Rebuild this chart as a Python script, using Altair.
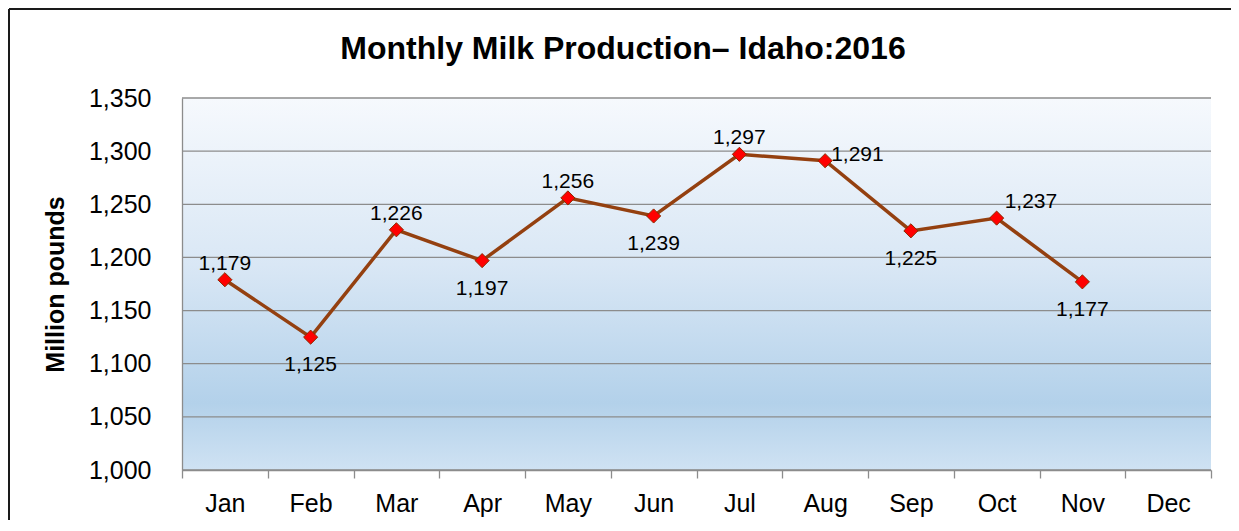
import altair as alt
import pandas as pd

months = ["Jan", "Feb", "Mar", "Apr", "May", "Jun", "Jul", "Aug", "Sep", "Oct", "Nov", "Dec"]
values = [1179, 1125, 1226, 1197, 1256, 1239, 1297, 1291, 1225, 1237, 1177]
label_pos = ["above", "below", "above", "below", "above", "below", "above", "right", "below", "aboveright", "below"]
y_ticks = [1000, 1050, 1100, 1150, 1200, 1250, 1300, 1350]
title_text = "Monthly Milk Production\u2013 Idaho:2016"
y_title = "Million pounds"

df = pd.DataFrame({"month": months[:len(values)], "value": values, "pos": label_pos})
grid_df = pd.DataFrame({"value": y_ticks})

W, H = 1029, 372
PAD = {"left": 174, "top": 90, "right": 20, "bottom": 50}
FONT = "Liberation Sans"

x_enc = alt.X(
    "month:N",
    sort=months,
    scale=alt.Scale(type="band", domain=months, paddingInner=0, paddingOuter=0),
    axis=alt.Axis(
        title=None, labelAngle=0, tickBand="extent", grid=False, zindex=1,
        domainColor="#8c8c8c", tickColor="#8c8c8c", tickSize=8, tickWidth=1.3,
        domainWidth=1.3, labelFontSize=25, labelFont=FONT, labelColor="black",
        labelPadding=13,
    ),
)
y_scale = alt.Scale(domain=[1000, 1350], nice=False, zero=False)
y_axis = alt.Axis(
    values=y_ticks, format=",.0f", title=y_title, titleFont=FONT, titleFontSize=25,
    titleFontWeight="bold", titleColor="black", titleAngle=270,
    titleX=-127, titleY=186, titleAlign="center", titleBaseline="middle",
    labelFontSize=25, labelFont=FONT, labelColor="black", labelPadding=31,
    tickSize=0, domainColor="#8c8c8c", domainWidth=1.3, grid=False, zindex=1,
)
y_enc = alt.Y("value:Q", scale=y_scale, axis=y_axis)

one = alt.Data(values=[{"t": title_text}])

bg_grad = alt.Gradient(
    gradient="linear", x1=0, x2=0, y1=0, y2=1,
    stops=[
        alt.GradientStop(offset=0, color="#f6f9fd"),
        alt.GradientStop(offset=0.45, color="#d9e7f5"),
        alt.GradientStop(offset=0.82, color="#b3d1ea"),
        alt.GradientStop(offset=1, color="#cfe2f3"),
    ],
)
bg = alt.Chart(one).mark_rect(fill=bg_grad).encode(
    x=alt.value(0), x2=alt.value(W), y=alt.value(0), y2=alt.value(H))

grid = alt.Chart(grid_df).mark_rule(color="#8c8c8c", strokeWidth=1.3).encode(
    y=y_enc, x=alt.value(0), x2=alt.value(W))

base = alt.Chart(df).encode(x=x_enc, y=y_enc)

line = base.mark_line(color="#944010", strokeWidth=3.5)
pts = base.mark_point(shape="diamond", filled=True, fill="#ff0000", stroke="#8a2c00",
                      strokeWidth=1, size=200, opacity=1)

offsets = {
    "above": dict(dx=0, dy=-10, align="center"),
    "below": dict(dx=0, dy=34, align="center"),
    "right": dict(dx=6, dy=0, align="left"),
    "aboveright": dict(dx=8, dy=-10, align="left"),
}
texts = []
for p, o in offsets.items():
    texts.append(
        base.transform_filter(alt.datum.pos == p)
        .mark_text(font=FONT, fontSize=21, color="black", baseline="alphabetic", **o)
        .encode(text=alt.Text("value:Q", format=",.0f"))
    )

title = alt.Chart(one).mark_text(font=FONT, fontSize=32, fontWeight="bold", color="black",
                                 align="center", baseline="alphabetic").encode(
    x=alt.value(441), y=alt.value(-39), text="t:N")

border_top = alt.Chart(one).mark_rule(color="#1a1a1a", strokeWidth=2).encode(
    x=alt.value(-PAD["left"] + 1), x2=alt.value(W + PAD["right"]), y=alt.value(-PAD["top"] + 1))
border_left = alt.Chart(one).mark_rule(color="#1a1a1a", strokeWidth=2).encode(
    x=alt.value(-PAD["left"] + 1), y=alt.value(-PAD["top"] + 1), y2=alt.value(H + PAD["bottom"]))

chart = alt.layer(bg, grid, line, pts, *texts, title, border_top, border_left).properties(
    width=W, height=H, autosize=alt.AutoSizeParams(type="none"), padding=PAD,
    background="white",
).configure_view(strokeWidth=0)

chart.save("out.html", embed_options={"renderer": "svg", "actions": False})
